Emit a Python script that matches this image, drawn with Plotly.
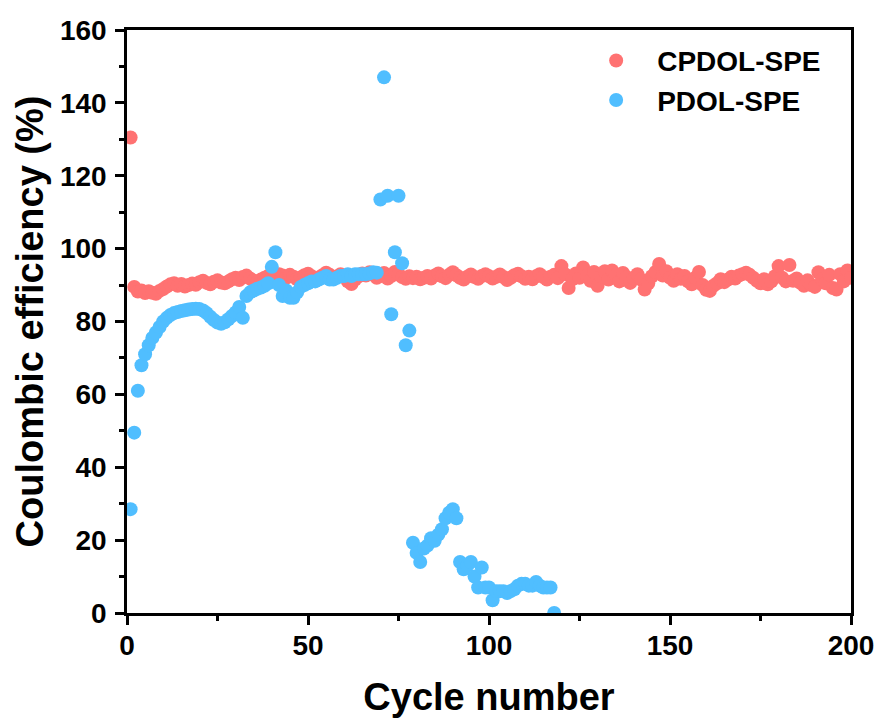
import plotly.graph_objects as go

cycles_cpdol = list(range(1, 201))
ce_cpdol = [
    130.5, 89.5, 88.2, 88.5, 87.8, 88.3, 87.9, 87.6, 88.4, 88.9,
    89.6, 90.2, 90.5, 89.8, 90.3, 89.6, 90.0, 90.4, 90.1, 90.8,
    91.2, 90.6, 90.2, 90.9, 91.3, 90.7, 90.5, 91.0, 91.6, 92.0,
    91.4, 92.2, 92.6, 91.8, 91.2, 90.8, 91.5, 92.0, 92.5, 91.9,
    92.3, 93.0, 92.6, 92.0, 92.8, 92.3, 91.6, 92.1, 92.7, 93.1,
    92.4, 91.5, 92.0, 92.7, 93.4, 92.8, 91.9, 92.3, 93.0, 92.5,
    91.0, 90.3, 91.5, 92.4, 93.2, 92.6, 93.5, 92.8, 92.0, 92.5,
    93.3, 91.8, 92.5, 93.6, 92.9, 92.2, 91.7, 92.4, 91.9, 92.3,
    91.6, 92.0, 92.5, 91.8, 92.6, 93.2, 92.4, 91.9, 92.8, 93.5,
    92.7, 92.0, 91.5, 92.3, 92.9, 92.2, 91.7, 92.5, 93.0, 92.4,
    91.8, 92.3, 92.9, 92.2, 91.4, 92.0, 92.7, 93.1, 92.4, 91.7,
    92.3, 91.6, 92.4, 93.0, 92.2, 91.5, 92.3, 92.8, 91.9, 95.2,
    93.0, 89.2, 91.6, 93.2, 92.0, 94.8, 92.5, 91.2, 93.6, 89.8,
    92.4, 93.8, 91.5, 94.0, 92.7, 91.0, 93.3, 92.2, 90.6, 91.8,
    93.0, 91.5, 88.8, 90.5, 92.4, 93.6, 95.8, 92.6, 93.8, 92.0,
    91.2, 93.0, 91.7, 92.5, 91.0, 90.2, 92.0, 93.6, 90.0, 88.7,
    88.4, 89.8, 90.5, 91.6, 90.8, 91.5, 92.3, 91.8, 92.6, 93.0,
    93.4, 92.8, 92.0, 91.2, 90.5, 91.6, 90.2, 91.0, 92.4, 95.2,
    92.0, 91.0, 95.5, 91.2, 91.8, 90.6, 89.8, 91.3, 90.0, 89.5,
    93.5, 91.5, 90.5, 92.8, 89.2, 88.8, 93.0, 91.0, 94.0, 92.0,
]

cycles_pdol = list(range(1, 119))
ce_pdol = [
    28.5, 49.5, 61.0, 68.0, 71.0, 73.5, 75.5, 77.0, 78.5, 80.0,
    81.0, 81.8, 82.3, 82.6, 82.9, 83.1, 83.3, 83.4, 83.5, 83.4,
    83.0, 82.3, 81.3, 80.4, 79.7, 79.4, 79.8, 80.6, 81.5, 82.5,
    84.0, 81.0, 87.0, 88.0, 88.5, 89.0, 89.3, 89.8, 90.5, 95.0,
    99.0, 90.0, 87.0, 88.5, 86.5, 86.5, 88.0, 89.5, 90.0, 90.5,
    91.0, 91.0, 91.5, 92.0, 92.5, 91.5, 91.5, 92.0, 92.5, 92.5,
    93.0, 92.5, 93.0, 93.0, 93.0, 93.0, 93.2, 93.5, 93.4, 113.5,
    147.0, 114.5, 82.0, 99.0, 114.5, 96.0, 73.5, 77.5, 19.3, 16.5,
    14.0, 17.7, 18.5, 20.5, 19.8, 21.5, 23.0, 26.0, 27.5, 28.5,
    26.0, 14.0, 12.0, 13.0, 14.0, 10.0, 7.0, 12.5, 7.0, 7.0,
    3.5, 6.0, 6.0, 6.0, 5.5, 6.0, 6.5, 7.5, 8.0, 8.0,
    7.5, 7.5, 8.5, 7.5, 7.0, 7.0, 7.0, 0.0,
]

x_ticks = [0, 50, 100, 150, 200]
y_ticks = [0, 20, 40, 60, 80, 100, 120, 140, 160]

RED = "#FF7272"
BLUE = "#50BEFF"
FONT = "Liberation Sans"

fig = go.Figure()
fig.add_trace(go.Scatter(
    x=cycles_cpdol, y=ce_cpdol, mode="markers", name="CPDOL-SPE",
    marker=dict(color=RED, size=14, line=dict(width=0)),
))
fig.add_trace(go.Scatter(
    x=cycles_pdol, y=ce_pdol, mode="markers", name="PDOL-SPE",
    marker=dict(color=BLUE, size=14, line=dict(width=0)),
))

axis_common = dict(
    showgrid=False, zeroline=False, showline=True, linecolor="black",
    linewidth=2.5, mirror=True, ticks="outside", ticklen=9, tickwidth=2.5,
    tickcolor="black",
    tickfont=dict(family=FONT, size=28, color="black", weight="bold"),
)

fig.update_layout(
    width=880, height=724,
    margin=dict(l=127, r=29, t=30, b=111, autoexpand=False),
    plot_bgcolor="white", paper_bgcolor="white",
    font=dict(family=FONT, color="black", weight="bold"),
    showlegend=True,
    legend=dict(
        x=0.619, y=0.99, xanchor="left", yanchor="top",
        bgcolor="rgba(0,0,0,0)", borderwidth=0,
        font=dict(family=FONT, size=28, color="black", weight="bold"),
        itemwidth=72, tracegroupgap=0,
    ),
    xaxis=dict(
        range=[0, 200], tickvals=x_ticks, ticklabelstandoff=-3,
        minor=dict(dtick=25, ticks="outside", ticklen=5, tickwidth=2.5, tickcolor="black"),
        title=dict(text="Cycle number", font=dict(family=FONT, size=38, color="black", weight="bold"), standoff=24),
        **axis_common,
    ),
    yaxis=dict(
        range=[0, 160], tickvals=y_ticks, ticklabelstandoff=3,
        minor=dict(dtick=10, ticks="outside", ticklen=5, tickwidth=2.5, tickcolor="black"),
        title=dict(text="Coulombic efficiency (%)", font=dict(family=FONT, size=38, color="black", weight="bold"), standoff=5),
        **axis_common,
    ),
)

fig.write_html("out.html")
